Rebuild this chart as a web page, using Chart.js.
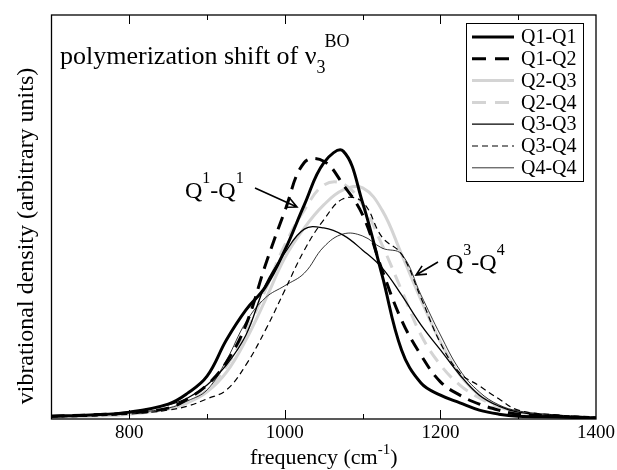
<!DOCTYPE html>
<html>
<head>
<meta charset="utf-8">
<script src="https://cdn.jsdelivr.net/npm/chart.js@4.4.0/dist/chart.umd.min.js"></script>
<style>
  body { margin: 0; background: #fff; }
  canvas { display: block; }
</style>
</head>
<body>
<canvas id="vdosChart" width="617" height="470"></canvas>
<script>
// frequency grid (cm^-1)
const freq = [700, 750, 800, 850, 875, 900, 925, 950, 975, 1000, 1025, 1050, 1075, 1100, 1125, 1150, 1175, 1200, 1225, 1250, 1275, 1300, 1350, 1400];

// vibrational density, arbitrary units
const q1q1 = [0.007, 0.010, 0.017, 0.037, 0.064, 0.106, 0.196, 0.270, 0.327, 0.418, 0.530, 0.634, 0.663, 0.535, 0.356, 0.171, 0.089, 0.059, 0.040, 0.022, 0.012, 0.007, 0.005, 0.002];
const q1q2 = [0.007, 0.010, 0.015, 0.027, 0.050, 0.084, 0.141, 0.233, 0.381, 0.515, 0.635, 0.638, 0.580, 0.505, 0.369, 0.245, 0.158, 0.092, 0.059, 0.037, 0.022, 0.012, 0.007, 0.002];
const q2q3 = [0.005, 0.007, 0.012, 0.025, 0.040, 0.067, 0.116, 0.196, 0.295, 0.399, 0.473, 0.530, 0.567, 0.572, 0.517, 0.408, 0.295, 0.191, 0.109, 0.059, 0.032, 0.017, 0.007, 0.002];
const q2q4 = [0.005, 0.007, 0.012, 0.025, 0.042, 0.072, 0.131, 0.215, 0.319, 0.431, 0.517, 0.579, 0.582, 0.530, 0.431, 0.319, 0.208, 0.134, 0.084, 0.052, 0.030, 0.017, 0.007, 0.002];
const q3q3 = [0.007, 0.010, 0.017, 0.035, 0.052, 0.084, 0.134, 0.208, 0.332, 0.411, 0.470, 0.473, 0.455, 0.418, 0.374, 0.307, 0.233, 0.171, 0.109, 0.059, 0.032, 0.017, 0.007, 0.002];
const q3q4 = [0.005, 0.007, 0.012, 0.022, 0.032, 0.050, 0.072, 0.134, 0.220, 0.319, 0.418, 0.493, 0.545, 0.537, 0.450, 0.408, 0.300, 0.188, 0.114, 0.082, 0.050, 0.022, 0.010, 0.005];
const q4q4 = [0.007, 0.010, 0.015, 0.027, 0.045, 0.072, 0.146, 0.240, 0.300, 0.330, 0.361, 0.426, 0.458, 0.453, 0.423, 0.408, 0.307, 0.208, 0.121, 0.067, 0.035, 0.020, 0.010, 0.005];

const seriesNames = ['Q1-Q1', 'Q1-Q2', 'Q2-Q3', 'Q2-Q4', 'Q3-Q3', 'Q3-Q4', 'Q4-Q4'];
const xLabelTicks = [800, 1000, 1200, 1400];

const SERIF = '"Liberation Serif", "DejaVu Serif", serif';
const GRAY = '#d4d4d4';

const toPoints = vals => freq.map((f, i) => ({ x: f, y: vals[i] }));

const styles = [
    { color: '#000', width: 3, dash: [] },
    { color: '#000', width: 3, dash: [13, 8] },
    { color: GRAY, width: 3, dash: [] },
    { color: GRAY, width: 3, dash: [13, 8] },
    { color: '#000', width: 1.3, dash: [] },
    { color: '#000', width: 1.2, dash: [6, 4] },
    { color: '#000', width: 0.8, dash: [] }
];

const allSeries = [q1q1, q1q2, q2q3, q2q4, q3q3, q3q4, q4q4];

const datasets = allSeries.map((vals, i) => ({
    label: seriesNames[i],
    data: toPoints(vals),
    borderColor: styles[i].color,
    borderWidth: styles[i].width,
    borderDash: styles[i].dash,
    pointRadius: 0,
    fill: false,
    tension: 0.4
}));
// gray curves sit under the black ones
const order = [2, 3, 0, 1, 4, 5, 6];
datasets.forEach((d, i) => { d.order = order.indexOf(i) * -1 + 10; });

// draws a run of text pieces, some raised or lowered
function richText(ctx, x, y, parts, align) {
    ctx.textBaseline = 'alphabetic';
    ctx.textAlign = 'left';
    if (align === 'center') {
        let w = 0;
        parts.forEach(p => {
            ctx.font = `${p.size}px ${SERIF}`;
            w += ctx.measureText(p.t).width + (p.gap || 0);
        });
        x -= w / 2;
    }
    parts.forEach(p => {
        ctx.font = `${p.size}px ${SERIF}`;
        ctx.fillText(p.t, x, y + (p.dy || 0));
        x += ctx.measureText(p.t).width + (p.gap || 0);
    });
}

function arrow(ctx, x1, y1, x2, y2) {
    const a = Math.atan2(y2 - y1, x2 - x1);
    const L = 11, spread = 0.45;
    ctx.beginPath();
    ctx.moveTo(x1, y1);
    ctx.lineTo(x2, y2);
    ctx.moveTo(x2 - L * Math.cos(a - spread), y2 - L * Math.sin(a - spread));
    ctx.lineTo(x2, y2);
    ctx.lineTo(x2 - L * Math.cos(a + spread), y2 - L * Math.sin(a + spread));
    ctx.stroke();
}

const decorPlugin = {
    id: 'decor',
    afterDraw(chart) {
        const ctx = chart.ctx;
        const area = chart.chartArea;
        const xs = chart.scales.x;
        ctx.save();
        ctx.setLineDash([]);
        ctx.strokeStyle = '#000';
        ctx.fillStyle = '#000';

        // frame
        ctx.lineWidth = 1.3;
        ctx.strokeRect(area.left, area.top, area.right - area.left, area.bottom - area.top);

        // inward ticks, bottom and top
        ctx.lineWidth = 1;
        for (let f = 800; f < 1400; f += 100) {
            const px = Math.round(xs.getPixelForValue(f)) + 0.5;
            const len = (f % 200 === 0) ? 9 : 5;
            ctx.beginPath();
            ctx.moveTo(px, area.bottom);
            ctx.lineTo(px, area.bottom - len);
            ctx.moveTo(px, area.top);
            ctx.lineTo(px, area.top + len);
            ctx.stroke();
        }

        // tick labels
        ctx.font = `19px ${SERIF}`;
        ctx.textAlign = 'center';
        ctx.textBaseline = 'alphabetic';
        xLabelTicks.forEach(v => {
            ctx.fillText(String(v), xs.getPixelForValue(v), area.bottom + 19);
        });

        // axis titles
        ctx.textAlign = 'center';
        ctx.font = `24px ${SERIF}`;
        ctx.save();
        ctx.translate(33, 236);
        ctx.rotate(-Math.PI / 2);
        ctx.textBaseline = 'alphabetic';
        ctx.fillText('vibrational density (arbitrary units)', 0, 0);
        ctx.restore();

        richText(ctx, (area.left + area.right) / 2, 464, [
            { t: 'frequency (cm', size: 22 },
            { t: '-1', size: 15, dy: -10 },
            { t: ')', size: 22 }
        ], 'center');

        // title inside plot
        richText(ctx, 60, 64, [
            { t: 'polymerization shift of \u03bd', size: 26 },
            { t: '3', size: 18, dy: 9, gap: -1 },
            { t: 'BO', size: 18, dy: -17 }
        ]);

        // annotations
        richText(ctx, 185, 198, [
            { t: 'Q', size: 24 },
            { t: '1', size: 16, dy: -15 },
            { t: '-Q', size: 24 },
            { t: '1', size: 16, dy: -15 }
        ]);
        richText(ctx, 446, 270, [
            { t: 'Q', size: 24 },
            { t: '3', size: 16, dy: -15 },
            { t: '-Q', size: 24 },
            { t: '4', size: 16, dy: -15 }
        ]);
        ctx.lineWidth = 1.6;
        arrow(ctx, 255, 188, 297, 207);
        arrow(ctx, 438, 262, 416, 275);

        // legend box
        const lx = 466, ly = 23, lw = 117, lh = 158;
        ctx.fillStyle = '#fff';
        ctx.fillRect(lx, ly, lw, lh);
        ctx.lineWidth = 1;
        ctx.strokeStyle = '#000';
        ctx.strokeRect(lx + 0.5, ly + 0.5, lw, lh);
        seriesNames.forEach((name, i) => {
            const cy = ly + 14 + i * 21.8;
            const st = styles[i];
            ctx.beginPath();
            ctx.strokeStyle = st.color;
            ctx.lineWidth = st.width;
            ctx.setLineDash(st.dash.length ? (st.width > 2 ? [14, 9] : [6, 4]) : []);
            ctx.moveTo(472, cy);
            ctx.lineTo(514, cy);
            ctx.stroke();
            ctx.setLineDash([]);
            ctx.fillStyle = '#000';
            ctx.font = `20px ${SERIF}`;
            ctx.textAlign = 'left';
            ctx.textBaseline = 'middle';
            ctx.fillText(name, 521, cy + 1);
        });
        ctx.restore();
    }
};

new Chart(document.getElementById('vdosChart').getContext('2d'), {
    type: 'line',
    data: { datasets },
    options: {
        responsive: false,
        animation: false,
        layout: { padding: { top: 15, right: 21, left: 0, bottom: 0 } },
        plugins: {
            legend: { display: false },
            tooltip: { enabled: false },
            title: { display: false }
        },
        scales: {
            x: {
                type: 'linear',
                min: 700,
                max: 1400,
                grid: { display: false },
                border: { display: false },
                afterFit: s => { s.height = 51; },
                ticks: { display: false, stepSize: 100 }
            },
            y: {
                min: 0,
                max: 1,
                grid: { display: false },
                border: { display: false },
                afterFit: s => { s.width = 51.5; },
                ticks: { display: false }
            }
        }
    },
    plugins: [decorPlugin]
});
</script>
</body>
</html>
